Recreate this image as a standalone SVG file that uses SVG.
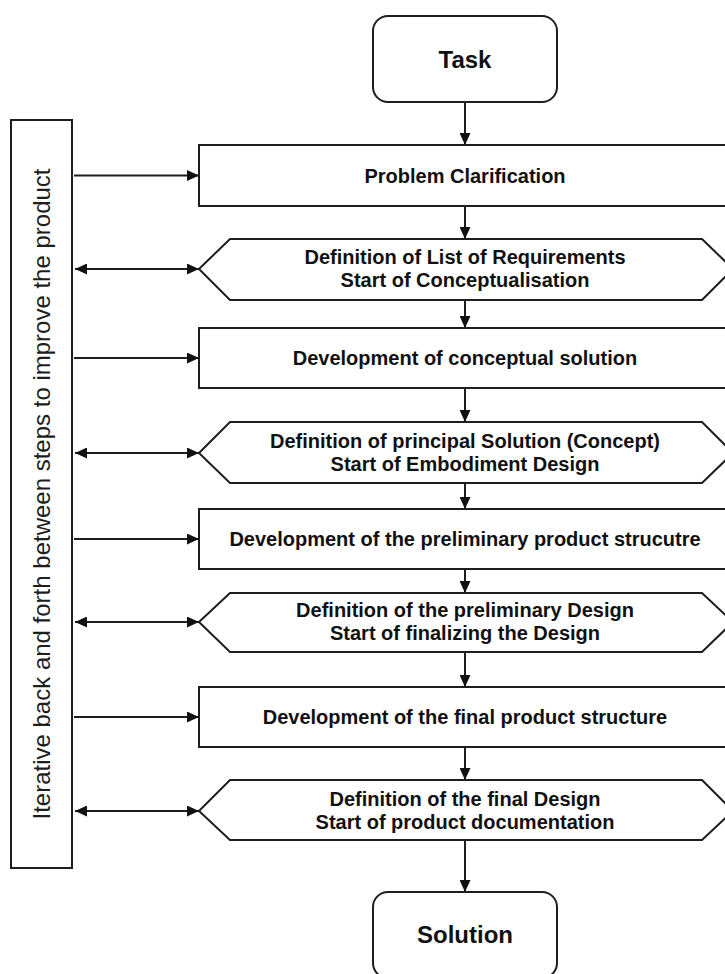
<svg xmlns="http://www.w3.org/2000/svg" width="725" height="974" viewBox="0 0 725 974">
<style>
.box{fill:#fff;stroke:#1e1e1e;stroke-width:2}
.lbl{font-family:"Liberation Sans",Arial,sans-serif;font-weight:bold;font-size:20px;fill:#111;text-anchor:middle}
.big{font-size:24px}
.side{font-family:"Liberation Sans",Arial,sans-serif;font-size:24px;fill:#1e1e1e;text-anchor:middle}
.ln{stroke:#1e1e1e;stroke-width:2;fill:none}
</style>
<defs>
<marker id="ah" markerUnits="userSpaceOnUse" markerWidth="12" markerHeight="11" refX="12" refY="5.5" orient="auto-start-reverse">
<path d="M0,0 L12,5.5 L0,11 Z" fill="#111"/>
</marker>
</defs>
<rect width="725" height="974" fill="#fff"/>

<g id="connectors">
<line class="ln" x1="465" y1="102" x2="465" y2="145" marker-end="url(#ah)"/>
<line class="ln" x1="465" y1="206" x2="465" y2="239" marker-end="url(#ah)"/>
<line class="ln" x1="465" y1="300" x2="465" y2="328" marker-end="url(#ah)"/>
<line class="ln" x1="465" y1="388" x2="465" y2="422" marker-end="url(#ah)"/>
<line class="ln" x1="465" y1="483" x2="465" y2="509" marker-end="url(#ah)"/>
<line class="ln" x1="465" y1="569" x2="465" y2="593" marker-end="url(#ah)"/>
<line class="ln" x1="465" y1="652" x2="465" y2="687" marker-end="url(#ah)"/>
<line class="ln" x1="465" y1="747" x2="465" y2="780" marker-end="url(#ah)"/>
<line class="ln" x1="465" y1="840" x2="465" y2="892" marker-end="url(#ah)"/>
<line class="ln" x1="74" y1="175.5" x2="199" y2="175.5" marker-end="url(#ah)"/>
<line class="ln" x1="75" y1="269" x2="199" y2="269" marker-start="url(#ah)" marker-end="url(#ah)"/>
<line class="ln" x1="74" y1="358" x2="199" y2="358" marker-end="url(#ah)"/>
<line class="ln" x1="75" y1="453" x2="199" y2="453" marker-start="url(#ah)" marker-end="url(#ah)"/>
<line class="ln" x1="74" y1="539" x2="199" y2="539" marker-end="url(#ah)"/>
<line class="ln" x1="75" y1="622" x2="199" y2="622" marker-start="url(#ah)" marker-end="url(#ah)"/>
<line class="ln" x1="74" y1="717" x2="199" y2="717" marker-end="url(#ah)"/>
<line class="ln" x1="75" y1="811" x2="199" y2="811" marker-start="url(#ah)" marker-end="url(#ah)"/>
</g>

<g id="iterative">
<rect class="box" x="11" y="120" width="61" height="748"/>
<text class="side" transform="translate(50,494) rotate(-90)">Iterative back and forth between steps to improve the product</text>
</g>

<g id="task">
<rect class="box" x="373" y="16" width="184" height="86" rx="15"/>
<text class="lbl big" x="465" y="67.5">Task</text>
</g>

<g id="problem-clarification">
<rect class="box" x="199" y="145" width="540" height="61"/>
<text class="lbl" x="465" y="182.5">Problem Clarification</text>
</g>

<g id="def-requirements">
<polygon class="box" points="199,269 230,239 702,239 733,269 702,300 230,300"/>
<text class="lbl" x="465" y="264">Definition of List of Requirements</text>
<text class="lbl" x="465" y="287">Start of Conceptualisation</text>
</g>

<g id="dev-conceptual">
<rect class="box" x="199" y="328" width="540" height="60"/>
<text class="lbl" x="465" y="365">Development of conceptual solution</text>
</g>

<g id="def-principal">
<polygon class="box" points="199,453 230,422 702,422 733,453 702,483 230,483"/>
<text class="lbl" x="465" y="448">Definition of principal Solution (Concept)</text>
<text class="lbl" x="465" y="471">Start of Embodiment Design</text>
</g>

<g id="dev-preliminary">
<rect class="box" x="199" y="509" width="540" height="60"/>
<text class="lbl" x="465" y="546">Development of the preliminary product strucutre</text>
</g>

<g id="def-preliminary">
<polygon class="box" points="199,622 230,593 702,593 733,622 702,652 230,652"/>
<text class="lbl" x="465" y="617">Definition of the preliminary Design</text>
<text class="lbl" x="465" y="640">Start of finalizing the Design</text>
</g>

<g id="dev-final">
<rect class="box" x="199" y="687" width="540" height="60"/>
<text class="lbl" x="465" y="724">Development of the final product structure</text>
</g>

<g id="def-final">
<polygon class="box" points="199,811 230,780 702,780 733,811 702,840 230,840"/>
<text class="lbl" x="465" y="806">Definition of the final Design</text>
<text class="lbl" x="465" y="829">Start of product documentation</text>
</g>

<g id="solution">
<rect class="box" x="373" y="892" width="184" height="86" rx="15"/>
<text class="lbl big" x="465" y="943">Solution</text>
</g>
</svg>
